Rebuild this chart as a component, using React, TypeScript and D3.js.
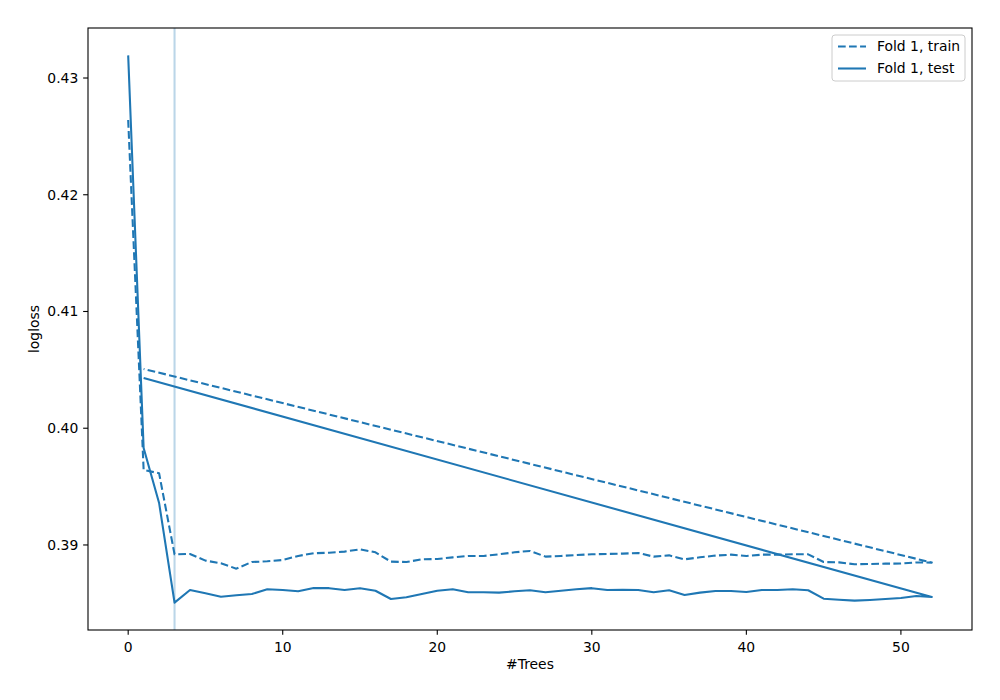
import React from "react";
import * as d3 from "d3";

const trees = [0, 1, 2, 3, 4, 5, 6, 7, 8, 9, 10, 11, 12, 13, 14, 15, 16, 17, 18, 19, 20, 21, 22, 23, 24, 25, 26, 27, 28, 29, 30, 31, 32, 33, 34, 35, 36, 37, 38, 39, 40, 41, 42, 43, 44, 45, 46, 47, 48, 49, 50, 51, 52, 1];

const trainLoss = [
  0.4264, 0.39643, 0.39614, 0.3892, 0.38923, 0.38866, 0.38843, 0.38797, 0.38854, 0.3886,
  0.38871, 0.38906, 0.38929, 0.38934, 0.38943, 0.38963, 0.38937, 0.38857, 0.38854, 0.38877,
  0.3888, 0.38894, 0.38906, 0.38906, 0.3892, 0.38937, 0.38949, 0.389, 0.38906, 0.38914,
  0.3892, 0.38923, 0.38926, 0.38931, 0.389, 0.38911, 0.38877, 0.38894, 0.38909, 0.38917,
  0.38906, 0.38917, 0.38917, 0.3892, 0.3892, 0.38854, 0.38851, 0.38835, 0.38837, 0.3884,
  0.38841, 0.3885, 0.38849, 0.40508,
];

const testLoss = [
  0.43194, 0.39831, 0.3936, 0.38506, 0.38614, 0.38586, 0.38557, 0.38569, 0.3858, 0.3862,
  0.38614, 0.38603, 0.38632, 0.3863, 0.38614, 0.3863, 0.38608, 0.38537, 0.38552, 0.3858,
  0.38608, 0.3862, 0.38595, 0.38595, 0.38592, 0.38603, 0.38612, 0.38595, 0.38608, 0.3862,
  0.3863, 0.38614, 0.38617, 0.38614, 0.38595, 0.38612, 0.38572, 0.38592, 0.38606, 0.38606,
  0.38597, 0.38614, 0.38614, 0.3862, 0.38612, 0.3854, 0.38531, 0.38523, 0.38529, 0.38537,
  0.38546, 0.38563, 0.38554, 0.40431,
];

const bestIteration = 3;
const xTicks = [0, 10, 20, 30, 40, 50];
const yTicks = [0.39, 0.4, 0.41, 0.42, 0.43];
const seriesNames = ["Fold 1, train", "Fold 1, test"];

const W = 1000;
const H = 700;
const L = 88, R = 972, T = 28, B = 630;
const color = "#1f77b4";
const font = "DejaVu Sans, sans-serif";
const fs = 13.9;
const lw = 2.08;
const dash = "7.7 3.33";

export default function App() {
  const xMin = 0, xMax = 52;
  const xPad = (xMax - xMin) * 0.05;
  const x = d3.scaleLinear().domain([xMin - xPad, xMax + xPad]).range([L, R]);
  const allY = [...trainLoss.slice(0, 53), ...testLoss.slice(0, 53)];
  const yMin = d3.min(allY) as number;
  const yMax = d3.max(allY) as number;
  const yPad = (yMax - yMin) * 0.05;
  const y = d3.scaleLinear().domain([yMin - yPad, yMax + yPad]).range([B, T]);

  const line = d3
    .line<number>()
    .x((_, i) => x(trees[i]))
    .y((d) => y(d));

  const legX = 832, legY = 35, legW = 133, legH = 46;

  return (
    <svg
      width={W}
      height={H}
      style={{ position: "absolute", left: 0, top: 0, background: "#fff" }}
      fontFamily={font}
    >
      <rect x={0} y={0} width={W} height={H} fill="#fff" />
      <line
        x1={x(bestIteration)}
        x2={x(bestIteration)}
        y1={T}
        y2={B}
        stroke={color}
        strokeOpacity={0.3}
        strokeWidth={lw}
      />
      <path
        d={line(trainLoss) || ""}
        fill="none"
        stroke={color}
        strokeWidth={lw}
        strokeDasharray={dash}
        strokeLinejoin="round"
      />
      <path
        d={line(testLoss) || ""}
        fill="none"
        stroke={color}
        strokeWidth={lw}
        strokeLinejoin="round"
      />
      <rect x={L} y={T} width={R - L} height={B - T} fill="none" stroke="#000" strokeWidth={1.1} />
      {xTicks.map((t) => (
        <g key={"x" + t}>
          <line x1={x(t)} x2={x(t)} y1={B} y2={B + 4.86} stroke="#000" strokeWidth={1.1} />
          <text x={x(t)} y={B + 22} textAnchor="middle" fontSize={fs} fill="#000">
            {t}
          </text>
        </g>
      ))}
      {yTicks.map((t) => (
        <g key={"y" + t}>
          <line x1={L - 4.86} x2={L} y1={y(t)} y2={y(t)} stroke="#000" strokeWidth={1.1} />
          <text x={L - 9.7} y={y(t)} dy="0.35em" textAnchor="end" fontSize={fs} fill="#000">
            {t.toFixed(2)}
          </text>
        </g>
      ))}
      <text x={(L + R) / 2} y={669} textAnchor="middle" fontSize={fs} fill="#000">
        #Trees
      </text>
      <text
        transform={`translate(39, ${(T + B) / 2}) rotate(-90)`}
        textAnchor="middle"
        fontSize={fs}
        fill="#000"
      >
        logloss
      </text>
      <rect
        x={legX}
        y={legY}
        width={legW}
        height={legH}
        rx={3}
        fill="#fff"
        fillOpacity={0.8}
        stroke="#cccccc"
        strokeWidth={1}
      />
      {seriesNames.map((name, i) => {
        const cy = legY + 11.5 + i * 22;
        return (
          <g key={name}>
            <line
              x1={legX + 6}
              x2={legX + 34}
              y1={cy}
              y2={cy}
              stroke={color}
              strokeWidth={lw}
              strokeDasharray={i === 0 ? dash : undefined}
            />
            <text x={legX + 45} y={cy} dy="0.35em" fontSize={fs} fill="#000">
              {name}
            </text>
          </g>
        );
      })}
    </svg>
  );
}
